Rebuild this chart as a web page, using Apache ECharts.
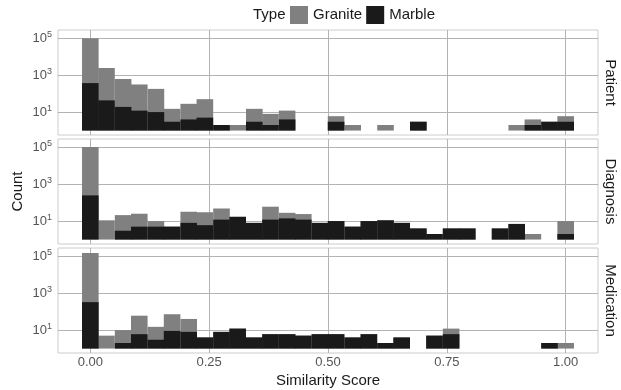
<!DOCTYPE html>
<html lang="en">
<head>
  <meta charset="UTF-8">
  <title>Similarity Score histogram</title>
  <script src="https://cdn.jsdelivr.net/npm/echarts@6/dist/echarts.min.js"></script>
  <style>
    html, body { margin: 0; padding: 0; background: #fff; }
    #chart { width: 621px; height: 390px; }
  </style>
</head>
<body>
  <div id="chart"></div>
  <script>
    // histogram bin centres (30 bins over 0..1)
    const binCenters = [0.000, 0.034, 0.069, 0.103, 0.138, 0.172, 0.207, 0.241, 0.276, 0.310,
                        0.345, 0.379, 0.414, 0.448, 0.483, 0.517, 0.552, 0.586, 0.621, 0.655,
                        0.690, 0.724, 0.759, 0.793, 0.828, 0.862, 0.897, 0.931, 0.966, 1.000];

    const panelNames = ['Patient', 'Diagnosis', 'Medication'];

    // counts per bin
    const patientMarble    = [370, 43, 19, 12, 10, 3, 4, 5, 2, 0, 3, 2, 4, 0, 0, 3, 0, 0, 0, 0, 3, 0, 0, 0, 0, 0, 0, 2, 3, 3];
    const patientGranite   = [270, 56, 32, 26, 18, 5, 7, 10, 0, 2, 5, 4, 3, 0, 0, 2, 2, 0, 2, 0, 0, 0, 0, 0, 0, 0, 2, 2, 0, 2];
    const diagnosisMarble  = [245, 0, 3, 5, 5, 5, 8, 6, 12, 17, 8, 12, 14, 12, 8, 10, 5, 10, 11, 8, 4, 2, 4, 4, 0, 4, 7, 0, 0, 2];
    const diagnosisGranite = [410, 11, 7, 5, 2, 0, 4, 5, 4, 0, 0, 5, 2, 2, 0, 0, 0, 0, 0, 0, 0, 0, 0, 0, 0, 0, 0, 2, 0, 5];
    const medicationMarble = [325, 0, 2, 6, 3, 9, 8, 4, 8, 12, 4, 6, 6, 5, 6, 6, 4, 6, 2, 4, 0, 5, 6, 0, 0, 0, 0, 0, 2, 0];
    const medicationGranite= [450, 5, 5, 10, 5, 8, 5, 0, 0, 0, 0, 0, 0, 0, 0, 0, 0, 0, 0, 0, 0, 0, 2, 0, 0, 0, 0, 0, 0, 2];

    const marbleByPanel  = [patientMarble, diagnosisMarble, medicationMarble];
    const graniteByPanel = [patientGranite, diagnosisGranite, medicationGranite];

    const xTicks = [0, 0.25, 0.5, 0.75, 1];
    const yTickExponents = [1, 3, 5];

    const GRANITE = '#808080';
    const MARBLE = '#1a1a1a';
    const GRID_LINE = '#b3b3b3';
    const FONT = '"Liberation Sans", Arial, sans-serif';

    const panelTops = [30, 139, 248];
    const panelHeight = 105;

    // ggplot stacks the log10-transformed counts
    function toLog(count) {
      return count > 0 ? Math.log10(count) : 0;
    }

    const chart = echarts.init(document.getElementById('chart'));

    const grids = [], xAxes = [], yAxes = [], series = [], graphics = [];

    panelNames.forEach((name, p) => {
      const isBottom = p === panelNames.length - 1;
      const marble = marbleByPanel[p];
      const granite = graniteByPanel[p];
      grids.push({
        left: 58, width: 540, top: panelTops[p], height: panelHeight,
        outerBoundsMode: 'none', containLabel: false,
        show: true, borderColor: '#cccccc', borderWidth: 1, backgroundColor: '#fff'
      });
      xAxes.push({
        type: 'value', gridIndex: p, min: -0.068, max: 1.068,
        axisLine: { show: false },
        axisTick: { show: isBottom, customValues: xTicks, length: 4, lineStyle: { color: GRID_LINE } },
        axisLabel: {
          show: isBottom, customValues: xTicks, margin: 3,
          fontFamily: FONT, fontSize: 13, color: '#555',
          formatter: v => v.toFixed(2)
        },
        splitLine: { show: true, lineStyle: { color: GRID_LINE, width: 1 } },
        name: isBottom ? 'Similarity Score' : '',
        nameLocation: 'middle', nameGap: 20, nameMoveOverlap: false,
        nameTextStyle: { fontFamily: FONT, fontSize: 15, color: '#1a1a1a' }
      });
      yAxes.push({
        type: 'value', gridIndex: p, min: -0.24, max: 5.44,
        axisLine: { show: false },
        axisTick: { show: true, customValues: yTickExponents, length: 4, lineStyle: { color: GRID_LINE } },
        axisLabel: {
          customValues: yTickExponents, margin: 6,
          formatter: v => '{b|10}{s|' + v + '}',
          rich: {
            b: { fontFamily: FONT, fontSize: 13, color: '#555' },
            s: { fontFamily: FONT, fontSize: 9, color: '#555', padding: [0, 0, 8, 0] }
          }
        },
        splitLine: { show: true, lineStyle: { color: GRID_LINE, width: 1 } },
        name: p === 1 ? 'Count' : '',
        nameLocation: 'middle', nameGap: 33, nameRotate: 90, nameMoveOverlap: false,
        nameTextStyle: { fontFamily: FONT, fontSize: 15, color: '#1a1a1a' }
      });
      // Granite sits on top of Marble in log space: draw the stacked total in grey,
      // then the Marble part over it in black
      series.push({
        name: 'Granite', type: 'bar', xAxisIndex: p, yAxisIndex: p,
        barWidth: 16.6, barGap: '-100%', itemStyle: { color: GRANITE },
        data: binCenters.map((x, i) => [x, toLog(marble[i]) + toLog(granite[i])])
      });
      series.push({
        name: 'Marble', type: 'bar', xAxisIndex: p, yAxisIndex: p,
        barWidth: 16.6, barGap: '-100%', itemStyle: { color: MARBLE },
        data: binCenters.map((x, i) => [x, toLog(marble[i])])
      });
      // facet strip label on the right
      graphics.push({
        type: 'text', x: 610, y: panelTops[p] + panelHeight / 2, rotation: -Math.PI / 2,
        style: { text: name, fontFamily: FONT, fontSize: 15, fill: '#1a1a1a', align: 'center', verticalAlign: 'middle' }
      });
    });

    const option = {
      animation: false,
      backgroundColor: '#fff',
      title: {
        text: 'Type', left: 253, top: 7, padding: 0,
        textStyle: { fontFamily: FONT, fontSize: 15, fontWeight: 'normal', color: '#1a1a1a' }
      },
      legend: {
        data: ['Granite', 'Marble'], left: 290, top: 6, padding: 0,
        icon: 'rect', itemWidth: 18, itemHeight: 18, itemGap: 4,
        textStyle: { fontFamily: FONT, fontSize: 15, color: '#1a1a1a' }
      },
      grid: grids,
      xAxis: xAxes,
      yAxis: yAxes,
      series: series,
      graphic: graphics
    };

    chart.setOption(option);
  </script>
</body>
</html>
